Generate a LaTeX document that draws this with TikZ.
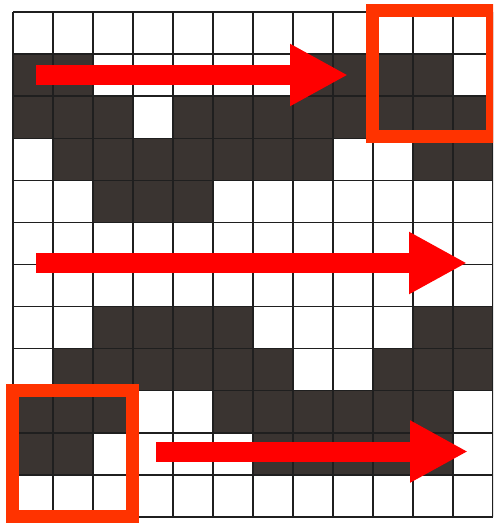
\documentclass[tikz,border=0pt]{standalone}
\usepackage{xcolor}
\usepackage{tikz}
\usetikzlibrary{arrows.meta}

\definecolor{cellgray}{HTML}{3A3431}
\definecolor{framered}{HTML}{FF3300}

\begin{document}
\begin{tikzpicture}[
	x=1pt,
	y=-1pt,
	cell/.style={fill=cellgray},
	gridline/.style={draw=black!88, line width=1.4pt},
	bigarrow/.style={
		draw=red,
		line width=20pt,
		-{Triangle[length=58pt,width=58pt]}
	},
	redframe/.style={draw=framered, line width=13pt}
	]
	
	\clip (0,0) rectangle (493,524);
	\fill[white] (0,0) rectangle (493,524);
	
	% dark cells, row / columns
	\foreach \r/\cols in {2/{1,2,8,9,10,11},
		3/{1,2,3,5,6,7,8,9,10,11,12},
		4/{2,3,4,5,6,7,8,11,12},
		5/{3,4,5},
		8/{3,4,5,6,11,12},
		9/{2,3,4,5,6,7,10,11,12},
		10/{1,2,3,6,7,8,9,10,11},
		11/{1,2,7,8,9,10,11}}
	\foreach \c in \cols
	\fill[cell] ({13+(\c-1)*40},{12+(\r-1)*42.08}) rectangle ++(40,42.08);
	
	% grid
	\foreach \k in {0,...,12} {
		\draw[gridline] ({13+\k*40},12) -- ({13+\k*40},517);
		\draw[gridline] (13,{12+\k*42.08}) -- (493,{12+\k*42.08});
	}
	
	\coordinate (a1) at (36,75);
	\coordinate (b1) at (348,75);
	\coordinate (a2) at (36,263);
	\coordinate (b2) at (467,263);
	\coordinate (a3) at (156,451.5);
	\coordinate (b3) at (468,451.5);
	
	\draw[bigarrow] (a1) -- (b1);
	\draw[bigarrow] (a2) -- (b2);
	\draw[bigarrow] (a3) -- (b3);
	
	\draw[redframe] (372.5,10.5) rectangle (492.5,136.5);
	\draw[redframe] (12.5,390.5) rectangle (132,516.5);
	
\end{tikzpicture}
\end{document}
